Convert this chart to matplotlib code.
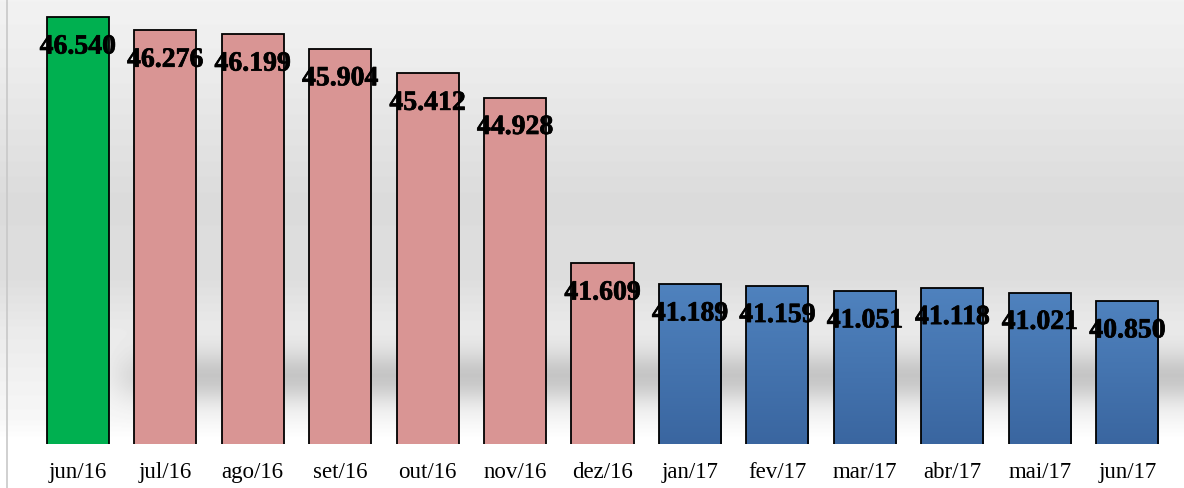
import matplotlib.pyplot as plt
import matplotlib.patheffects as pe
from matplotlib.colors import LinearSegmentedColormap
import numpy as np

# monthly values (thousands)
months = ["jun/16", "jul/16", "ago/16", "set/16", "out/16", "nov/16", "dez/16",
          "jan/17", "fev/17", "mar/17", "abr/17", "mai/17", "jun/17"]
values = [46.540, 46.276, 46.199, 45.904, 45.412, 44.928, 41.609,
          41.189, 41.159, 41.051, 41.118, 41.021, 40.850]
labels = ["46.540", "46.276", "46.199", "45.904", "45.412", "44.928", "41.609",
          "41.189", "41.159", "41.051", "41.118", "41.021", "40.850"]
groups = ["green"] + ["pink"] * 6 + ["blue"] * 6

colors = {"green": "#00B050", "pink": "#D99594", "blue": "#4A7AB6"}

fig = plt.figure(figsize=(11.84, 4.89), dpi=100)

# background: soft gray gradient with a floor shadow band
bg = fig.add_axes([0, 0, 1, 1], zorder=0)
bg.set_axis_off()
H, W = 489, 1184
yy = np.arange(H)[:, None]
xx = np.arange(W)[None, :]
stops_y = [0, 60, 200, 280, 330, 420, 440, 489]
stops_v = [0.95, 0.93, 0.86, 0.87, 0.92, 0.97, 1.0, 1.0]
base = np.interp(np.arange(H), stops_y, stops_v)[:, None] * np.ones((1, W))
ramp = np.clip((xx - 100) / 60.0, 0, 1)
shadow = 0.17 * np.exp(-((yy - 378) / 26.0) ** 2) * ramp
img = np.clip(base - shadow, 0, 1)
bg.imshow(img, cmap="gray", vmin=0, vmax=1, aspect="auto",
          extent=[0, 1, 0, 1], origin="upper")
bg.set_xlim(0, 1)
bg.set_ylim(0, 1)
bg.axvline(7 / W, color="#c8c8c8", lw=1.2)

ax = fig.add_axes([34 / W, 44 / H, (1171 - 34) / W, 445 / H], zorder=1)
ax.patch.set_visible(False)
x = np.arange(len(months))
bars = ax.bar(x, values, width=0.71, bottom=0,
              color=[colors[g] for g in groups], edgecolor="black", linewidth=1.3)
ax.set_ylim(37.985, 46.905)
ax.set_xlim(-0.5, len(months) - 0.5)

# vertical gradient for the blue bars
grad = np.linspace(0, 1, 100)[:, None]
blue_cm = LinearSegmentedColormap.from_list("b", ["#3A66A0", "#4F82BE"])
for b, g in zip(bars, groups):
    if g == "blue":
        x0, y0 = b.get_x(), 37.985
        im = ax.imshow(grad, cmap=blue_cm, aspect="auto", origin="lower",
                       extent=[x0, x0 + b.get_width(), y0, b.get_height()],
                       zorder=1.5)
        im.set_clip_path(b)
        b.set_facecolor("none")
        b.set_zorder(2)

for xi, v, lab in zip(x, values, labels):
    ax.annotate(lab, (xi, v), xytext=(0, -21.5), textcoords="offset points",
                ha="center", va="center", fontsize=20, fontweight="bold",
                family="Liberation Serif", zorder=3,
                path_effects=[pe.withStroke(linewidth=0.5, foreground="black")])

ax.set_xticks(x)
ax.set_xticklabels(months, family="Liberation Serif", fontsize=16.5)
ax.tick_params(axis="x", length=0, pad=12)
ax.set_yticks([])
for s in ax.spines.values():
    s.set_visible(False)

fig.savefig("out.png", dpi=100)
